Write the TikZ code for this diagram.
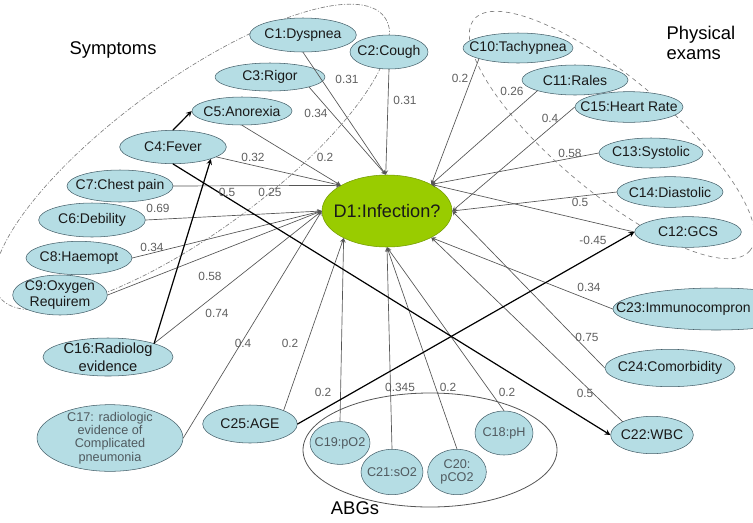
\documentclass[tikz,border=0pt]{standalone}
\usepackage{fontspec}
\setmainfont{Liberation Sans}
\usetikzlibrary{shapes.geometric}
\definecolor{nodefill}{RGB}{181,221,228}
\definecolor{nodeedge}{RGB}{70,96,106}
\definecolor{dgreen}{RGB}{153,204,0}
\definecolor{dgedge}{RGB}{115,155,0}
\definecolor{linegray}{RGB}{85,85,85}
\definecolor{wtgray}{RGB}{95,95,95}
\definecolor{txtgray}{RGB}{80,90,95}
\begin{document}
\begin{tikzpicture}[x=0.75pt, y=-0.75pt, line join=round, line cap=round, >=stealth,
	cnode/.style={ellipse, draw=nodeedge, fill=nodefill, inner xsep=-11pt, inner ysep=-3pt, align=center,
		text=black!90, font=\fontsize{10.5}{11.5}\selectfont},
	snode/.style={cnode, text=txtgray, font=\fontsize{9.5}{10}\selectfont},
	wt/.style={text=wtgray, inner sep=1pt, font=\fontsize{8.9}{10}\selectfont},
	title/.style={align=left, font=\fontsize{13.8}{15}\selectfont},
	link/.style={->, draw=linegray, line width=0.5pt},
	tlink/.style={->, line width=0.9pt},
	grp/.style={draw=gray, line width=0.5pt}]
	\useasboundingbox (0,0) rectangle (753,522);
	\clip (0,0) rectangle (753,522);
	\draw[grp, dash pattern=on 3pt off 1.5pt on 0.6pt off 1.5pt, rotate around={36:(192,157)}] (192,157) ellipse (238 and 76);
	\draw[grp, dashed, rotate around={-40:(612,135)}] (612,135) ellipse (180 and 57);
	\draw[linegray, line width=0.6pt] (430,450) ellipse (127 and 57);
	\node[title] (symp) at (113,50) {Symptoms};
	\node[title, anchor=west] (phys) at (662,43) {Physical\\exams};
	\node[title] (abg) at (355,508) {ABGs};
	\node[cnode, fill=dgreen, draw=dgedge, minimum width=97.5pt, minimum height=54pt, font=\fontsize{13.6}{15}\selectfont] (D1) at (387,211) {D1:Infection?};
	\node[cnode, minimum width=80pt, minimum height=25.5pt] (c1) at (303,35) {C1:Dyspnea};
	\node[cnode, minimum width=58.5pt, minimum height=25.5pt] (c2) at (389,52) {C2:Cough};
	\node[cnode, minimum width=82.5pt, minimum height=21pt] (c3) at (270,77) {C3:Rigor};
	\node[cnode, minimum width=75pt, minimum height=21pt] (c5) at (242,111) {C5:Anorexia};
	\node[cnode, minimum width=80pt, minimum height=25pt] (c4) at (173,147) {C4:Fever};
	\node[cnode, minimum width=79.5pt, minimum height=24pt] (c7) at (120,186) {C7:Chest pain};
	\node[cnode, minimum width=80pt, minimum height=25.5pt] (c6) at (92,220) {C6:Debility};
	\node[cnode, minimum width=79.5pt, minimum height=25pt] (c8) at (79,258) {C8:Haemopt};
	\node[cnode, minimum width=71pt, minimum height=30pt] (c9) at (60,295) {C9:Oxygen\\Requirem};
	\node[cnode, minimum width=97.5pt, minimum height=28.5pt, font=\fontsize{11}{13.5}\selectfont] (c16) at (108,357) {C16:Radiolog\\evidence};
	\node[snode, minimum width=109.5pt, minimum height=50pt] (c17) at (110,438) {C17: radiologic\\evidence of\\Complicated\\pneumonia};
	\node[cnode, minimum width=71pt, minimum height=28.5pt] (c25) at (250,424) {C25:AGE};
	\node[snode, minimum width=45pt, minimum height=32pt] (c19) at (340,443) {C19:pO2};
	\node[snode, minimum width=46.5pt, minimum height=34pt] (c21) at (392,472) {C21:sO2};
	\node[snode, minimum width=44pt, minimum height=34pt] (c20) at (457,472) {C20:\\pCO2};
	\node[snode, minimum width=43.5pt, minimum height=33pt] (c18) at (504,433) {C18:pH};
	\node[cnode, minimum width=62pt, minimum height=28pt] (c22) at (652,435) {C22:WBC};
	\node[cnode, minimum width=97.5pt, minimum height=28pt] (c24) at (670,368) {C24:Comorbidity};
	\node[cnode, text width=150pt, align=left, inner xsep=-30pt, minimum width=154.5pt, minimum height=31.5pt] (c23) at (716,309) {C23:Immunocompron};
	\node[cnode, minimum width=82.5pt, minimum height=22.5pt] (c10) at (518,48) {C10:Tachypnea};
	\node[cnode, minimum width=79.5pt, minimum height=22.5pt] (c11) at (575,80) {C11:Rales};
	\node[cnode, minimum width=81pt, minimum height=23pt] (c15) at (629,107) {C15:Heart Rate};
	\node[cnode, minimum width=78pt, minimum height=22.5pt] (c13) at (651,153) {C13:Systolic};
	\node[cnode, minimum width=79.5pt, minimum height=23pt] (c14) at (670,192) {C14:Diastolic};
	\node[cnode, minimum width=80pt, minimum height=23pt] (c12) at (688,232) {C12:GCS};
	\draw[link] (c1.south) -- (D1.92);
	\draw[link] (c2.south) -- (D1.92);
	\draw[link] (c3.south east) -- (D1.92);
	\draw[link] (c5.south) -- (D1.151);
	\draw[link] (c4) -- (D1.151);
	\draw[link] (c7.east) -- (D1.151);
	\foreach \s in {c6,c8,c9,c17} \draw[link] (\s.east) -- (D1.180);
	\draw[link] (c16.north east) -- (D1.180);
	\draw[link] (c25.north east) -- (D1.212);
	\draw[link] (c19.north) -- (D1.212);
	\foreach \s in {c21,c20,c18} \draw[link] (\s.north) -- (D1.270);
	\draw[link] (c22.north west) -- (D1.329);
	\draw[link] (c23.west) -- (D1.329);
	\foreach \s in {c24,c14,c15} \draw[link] (\s.west) -- (D1.0);
	\foreach \s in {c12,c13} \draw[link] (\s.west) -- (D1.31);
	\foreach \s in {c10,c11} \draw[link] (\s.south west) -- (D1.31);
	\draw[tlink] (c16.north east) -- (c4.south east);
	\draw[tlink] (c4.north) -- (c5.west);
	\draw[tlink] (c4.south) -- (c22.west);
	\draw[tlink] (c25.east) -- (c12.west);
	\foreach \x/\y/\t [count=\i] in {347/79/0.31, 316/113/0.34, 405/100/0.31, 253/157/0.32, 325/157/0.2,
		227/192/0.5, 270/192/0.25, 158/208/0.69, 152/247/0.34, 210/276/0.58, 217/313/0.74,
		243/343/0.4, 290/343/0.2, 323/392/0.2, 400/387/0.345, 448/387/0.2, 507/392/0.2,
		585/393/0.5, 587/337/0.75, 589/287/0.34, 593/240/-0.45, 580/202/0.5, 570/153/0.58,
		550/118/0.4, 512/91/0.26, 460/78/0.2}
		\node[wt] (w\i) at (\x,\y) {\t};
\end{tikzpicture}
\end{document}
